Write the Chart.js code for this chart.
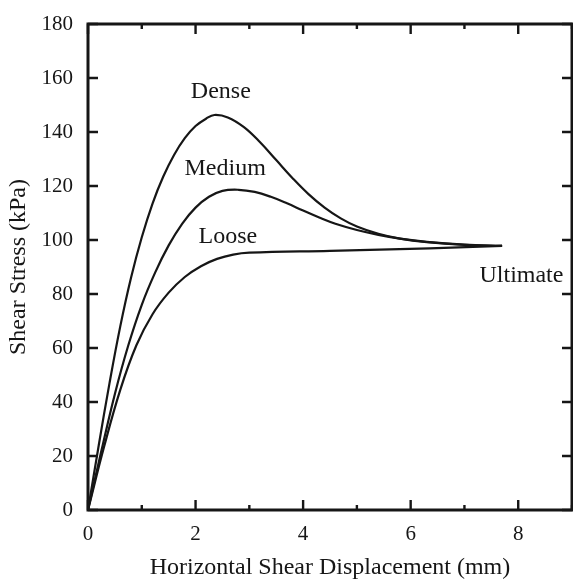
<!DOCTYPE html>
<html>

<head>
  <title>Shear Stress vs Displacement</title>
  <script src="https://cdn.jsdelivr.net/npm/chart.js"></script>
  <style>
    body { margin: 0; background: #fff; }
    canvas { display: block; }
  </style>
</head>

<body>
  <canvas id="myChart" width="573" height="587"></canvas>
  <script>
    // Shear stress curves (kPa) against horizontal displacement (mm)
    var denseX = [0, 0.2, 0.4, 0.6, 0.8, 1.0, 1.2, 1.4, 1.6, 1.8, 2.0, 2.2, 2.35, 2.6, 2.9, 3.2, 3.5, 3.8, 4.1, 4.4, 4.7, 5.0, 5.4, 5.8, 6.3, 7.0, 7.7];
    var denseY = [0, 24, 47, 68, 86, 101, 113.5, 123.5, 131.5, 137.7, 142.2, 145, 146.3, 145.4, 141.8, 136.2, 129.6, 123, 117, 112, 108, 105, 102.3, 100.5, 99.2, 98.2, 97.8];

    var mediumX = [0, 0.25, 0.5, 0.75, 1.0, 1.25, 1.5, 1.75, 2.0, 2.25, 2.5, 2.8, 3.1, 3.4, 3.7, 4.0, 4.3, 4.6, 5.0, 5.4, 5.8, 6.3, 7.0, 7.7];
    var mediumY = [0, 22, 43, 61, 76, 88, 98, 106, 112, 116, 118.2, 118.6, 117.8, 116, 113.6, 110.9, 108.3, 106, 103.7, 101.9, 100.5, 99.3, 98.3, 97.8];

    var looseX = [0, 0.3, 0.6, 0.9, 1.2, 1.5, 1.8, 2.1, 2.4, 2.7, 3.0, 4.5, 6.35, 7.7];
    var looseY = [0, 23.5, 44.5, 61, 72.5, 80.5, 86.3, 90.3, 93, 94.6, 95.3, 96, 96.9, 97.8];

    // curve labels, placed in data units (x mm, y kPa at text baseline)
    var noteText = ['Dense', 'Medium', 'Loose', 'Ultimate'];
    var noteX = [2.47, 2.55, 2.6, 8.06];
    var noteY = [152.6, 124.1, 98.9, 84.4];

    function toPoints(xs, ys) {
      return xs.map(function (x, i) { return { x: x, y: ys[i] }; });
    }

    var ink = '#161616';
    var serif = '"Liberation Serif", "Times New Roman", serif';

    function curve(label, xs, ys) {
      return {
        label: label,
        data: toPoints(xs, ys),
        showLine: true,
        borderColor: ink,
        borderWidth: 2.2,
        pointRadius: 0,
        tension: 0.4
      };
    }

    // box frame, inward tick marks and curve names
    var frameAndNotes = {
      id: 'frameAndNotes',
      afterDatasetsDraw: function (chart) {
        var ctx = chart.ctx, a = chart.chartArea;
        var xs = chart.scales.x, ys = chart.scales.y;
        ctx.save();
        ctx.strokeStyle = ink;
        ctx.lineWidth = 2.4;
        ctx.beginPath();
        xs.ticks.forEach(function (t) {
          var px = xs.getPixelForValue(t.value);
          var len = t.value % 2 === 0 ? 10 : 5;
          ctx.moveTo(px, a.bottom); ctx.lineTo(px, a.bottom - len);
          ctx.moveTo(px, a.top); ctx.lineTo(px, a.top + len);
        });
        ys.ticks.forEach(function (t) {
          var py = ys.getPixelForValue(t.value);
          var len = t.value % 20 === 0 ? 10 : 5;
          ctx.moveTo(a.left, py); ctx.lineTo(a.left + len, py);
          ctx.moveTo(a.right, py); ctx.lineTo(a.right - len, py);
        });
        ctx.stroke();
        ctx.lineWidth = 3;
        ctx.strokeRect(a.left, a.top, a.right - a.left, a.bottom - a.top);

        ctx.fillStyle = ink;
        ctx.font = '24px ' + serif;
        ctx.textAlign = 'center';
        ctx.textBaseline = 'alphabetic';
        noteText.forEach(function (txt, i) {
          ctx.fillText(txt, xs.getPixelForValue(noteX[i]), ys.getPixelForValue(noteY[i]));
        });
        ctx.restore();
      }
    };

    var ctx = document.getElementById('myChart').getContext('2d');
    var chart = new Chart(ctx, {
      type: 'scatter',
      data: {
        datasets: [
          curve('Dense', denseX, denseY),
          curve('Medium', mediumX, mediumY),
          curve('Loose', looseX, looseY)
        ]
      },
      options: {
        responsive: false,
        animation: false,
        layout: { padding: { top: 24, right: 1, left: 0, bottom: 0 } },
        plugins: {
          legend: { display: false },
          tooltip: { enabled: false }
        },
        scales: {
          x: {
            type: 'linear',
            min: 0,
            max: 9,
            grid: { display: false, drawTicks: false },
            border: { display: false },
            ticks: {
              stepSize: 1,
              padding: 12,
              color: ink,
              font: { family: serif, size: 21 },
              callback: function (v) { return v % 2 === 0 ? v : ''; }
            },
            title: {
              display: true,
              text: 'Horizontal Shear Displacement (mm)',
              color: ink,
              font: { family: serif, size: 24 },
              padding: 5
            },
            afterFit: function (s) {
              s.height = 77;
              s.paddingLeft = 0;
              s.paddingRight = 0;
            }
          },
          y: {
            min: 0,
            max: 180,
            grid: { display: false, drawTicks: false },
            border: { display: false },
            ticks: {
              stepSize: 10,
              padding: 15,
              color: ink,
              font: { family: serif, size: 21 },
              callback: function (v) { return v % 20 === 0 ? v : ''; }
            },
            title: {
              display: true,
              text: 'Shear Stress (kPa)',
              color: ink,
              font: { family: serif, size: 24 },
              padding: 4
            },
            afterFit: function (s) {
              s.width = 88;
              s.paddingTop = 0;
              s.paddingBottom = 0;
            }
          }
        }
      },
      plugins: [frameAndNotes]
    });
  </script>
</body>

</html>
